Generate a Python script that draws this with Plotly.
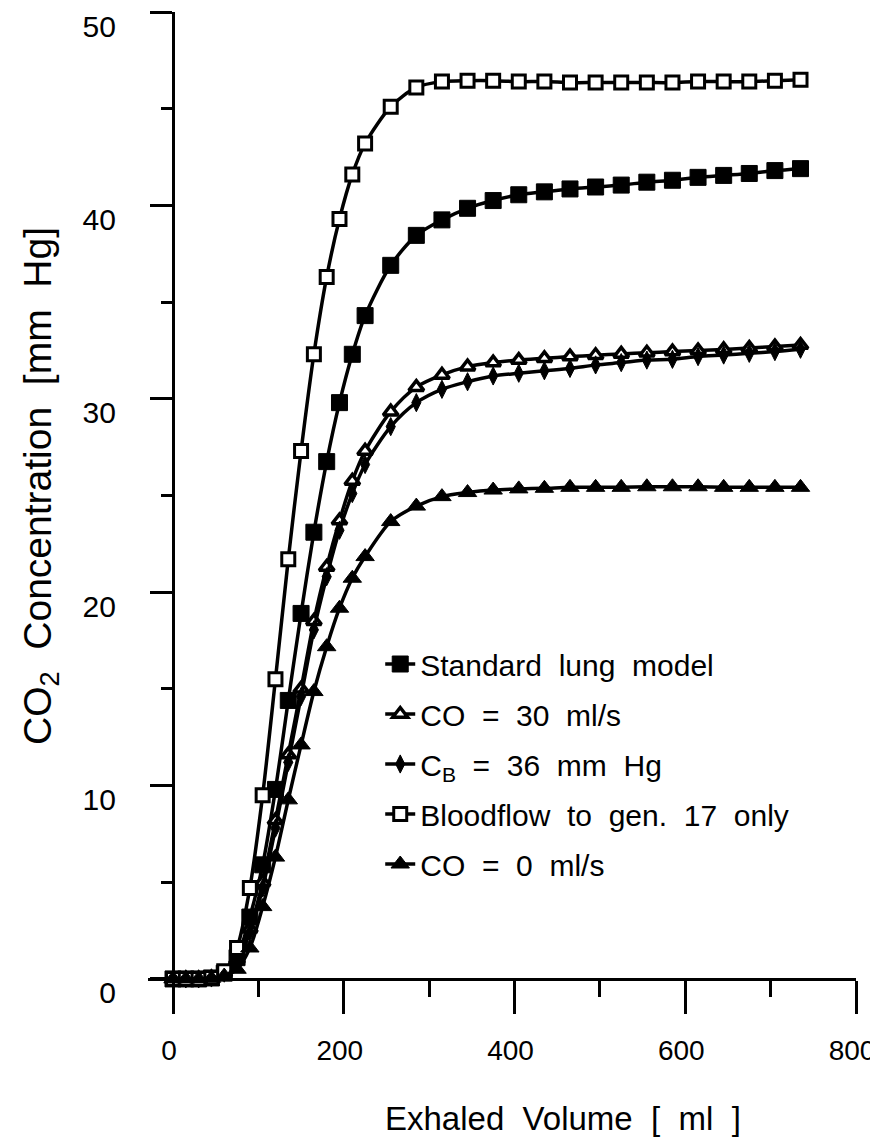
import plotly.graph_objects as go

# ---- data ----
volume_ml = [0, 15, 30, 45, 60, 75, 90, 105, 120, 135, 150, 165, 180, 195, 210, 225,
             255, 285, 315, 345, 375, 405, 435, 465, 495, 525, 555, 585, 615, 645, 675, 705, 735]

standard_lung = [0, 0, 0, 0.05, 0.3, 1.1, 3.2, 5.9, 9.8, 14.4, 18.9, 23.1, 26.75, 29.8, 32.3, 34.3,
                 36.9, 38.45, 39.25, 39.85, 40.25, 40.55, 40.7, 40.85, 40.95, 41.05, 41.2, 41.3,
                 41.45, 41.55, 41.65, 41.8, 41.9]

co_30 = [0, 0, 0, 0.05, 0.3, 1.0, 2.6, 5.0, 8.2, 11.6, 15.0, 18.5, 21.3, 23.7, 25.75, 27.3,
         29.33, 30.6, 31.23, 31.66, 31.87, 32.0, 32.09, 32.18, 32.25, 32.32, 32.38, 32.44,
         32.49, 32.55, 32.62, 32.7, 32.78]

cb_36 = [0, 0, 0, 0.05, 0.3, 0.9, 2.4, 4.7, 7.8, 11.2, 14.6, 18.05, 20.8, 23.2, 25.1, 26.6,
         28.56, 29.8, 30.49, 30.88, 31.18, 31.32, 31.45, 31.57, 31.75, 31.87, 32.0, 32.04,
         32.18, 32.26, 32.35, 32.44, 32.56]

bloodflow_gen17 = [0, 0, 0, 0.05, 0.4, 1.6, 4.7, 9.5, 15.5, 21.7, 27.3, 32.3, 36.3, 39.3, 41.6, 43.2,
                   45.1, 46.1, 46.4, 46.45, 46.45, 46.4, 46.4, 46.35, 46.35, 46.35, 46.35, 46.35,
                   46.4, 46.4, 46.4, 46.45, 46.5]

co_0 = [0, 0, 0, 0.03, 0.15, 0.5, 1.6, 3.74, 6.3, 9.26, 12.1, 14.86, 17.18, 19.17, 20.72, 21.84,
        23.65, 24.45, 24.94, 25.15, 25.28, 25.34, 25.37, 25.42, 25.42, 25.42, 25.45, 25.45,
        25.45, 25.42, 25.42, 25.42, 25.42]

S = "\u00a0\u00a0"
series_names = [
    "Standard" + S + "lung" + S + "model",
    "CO" + S + "=" + S + "30" + S + "ml/s",
    "C<sub>B</sub>" + S + "=" + S + "36" + S + "mm" + S + "Hg",
    "Bloodflow" + S + "to" + S + "gen." + S + "17" + S + "only",
    "CO" + S + "=" + S + "0" + S + "ml/s",
]
series_values = [standard_lung, co_30, cb_36, bloodflow_gen17, co_0]

x_major_ticks = [0, 200, 400, 600, 800]
x_minor_ticks = [100, 300, 500, 700]
y_major_ticks = [0, 10, 20, 30, 40, 50]
y_minor_ticks = [5, 15, 25, 35, 45]

x_title = "Exhaled" + S + "Volume" + S + "[" + S + "ml" + S + "]"
y_title = "CO<sub>2</sub>" + S + "Concentration" + S + "[mm" + S + "Hg]"

# ---- styles ----
marker_styles = [
    dict(symbol="square", size=16, color="black", line=dict(color="black", width=1)),
    dict(symbol="triangle-up", size=13, color="white", line=dict(color="black", width=3.5)),
    dict(symbol="diamond-tall", size=13, color="black", line=dict(color="black", width=1)),
    dict(symbol="square", size=13, color="white", line=dict(color="black", width=3)),
    dict(symbol="triangle-up", size=16, color="black", line=dict(color="black", width=1)),
]

FONT = "Liberation Sans, Arial, Helvetica, sans-serif"

fig = go.Figure()
for i, (name, vals) in enumerate(zip(series_names, series_values)):
    fig.add_trace(go.Scatter(
        x=volume_ml, y=vals, name=name, mode="lines+markers",
        line=dict(color="black", width=3.5, shape="spline", smoothing=0.8),
        marker=marker_styles[i], legendgroup="g%d" % i,
    ))

fig.update_layout(
    width=870, height=1137,
    margin=dict(l=140, r=22, t=4, b=133, autoexpand=False),
    paper_bgcolor="white", plot_bgcolor="white",
    font=dict(family=FONT, color="black", size=30),
    showlegend=True,
    legend=dict(
        x=0.328, y=0.374, xanchor="left", yanchor="top",
        bgcolor="rgba(0,0,0,0)", font=dict(size=30, family=FONT, color="black"),
        tracegroupgap=8, itemsizing="trace", traceorder="grouped",
    ),
    annotations=[
        dict(text=x_title, xref="paper", yref="paper", x=0.586, y=-0.106,
             xanchor="center", yanchor="middle", showarrow=False,
             font=dict(size=33, family=FONT, color="black")),
        dict(text=y_title, xref="paper", yref="paper", x=-0.1525, y=0.526,
             xanchor="center", yanchor="middle", showarrow=False, textangle=-90,
             font=dict(size=39, family=FONT, color="black")),
    ],
)

fig.update_xaxes(
    range=[-29.3, 800], anchor="free", position=0.033,
    showline=True, linewidth=3, linecolor="black", mirror=False,
    showgrid=False, zeroline=False,
    ticks="outside", ticklen=33, tickwidth=3, tickcolor="black",
    tickmode="array", tickvals=x_major_ticks, ticktext=[str(v) for v in x_major_ticks],
    tickfont=dict(size=28, family=FONT, color="black"), ticklabelstandoff=12,
    ticklabelshift=-4, ticklabeloverflow="allow",
    minor=dict(tickmode="array", tickvals=x_minor_ticks, ticks="outside", ticklen=16,
               tickwidth=3, tickcolor="black", showgrid=False),
)

fig.update_yaxes(
    range=[-1.71, 50], anchor="free", position=0.0353,
    showline=True, linewidth=3, linecolor="black",
    showgrid=False, zeroline=False,
    ticks="outside", ticklen=22, tickwidth=3, tickcolor="black",
    tickmode="array", tickvals=y_major_ticks, ticktext=[str(v) for v in y_major_ticks],
    tickfont=dict(size=30, family=FONT, color="black"), ticklabelstandoff=28,
    ticklabelshift=14, ticklabeloverflow="allow",
    minor=dict(tickmode="array", tickvals=y_minor_ticks, ticks="outside", ticklen=11,
               tickwidth=3, tickcolor="black", showgrid=False),
)

fig.write_html("out.html")
